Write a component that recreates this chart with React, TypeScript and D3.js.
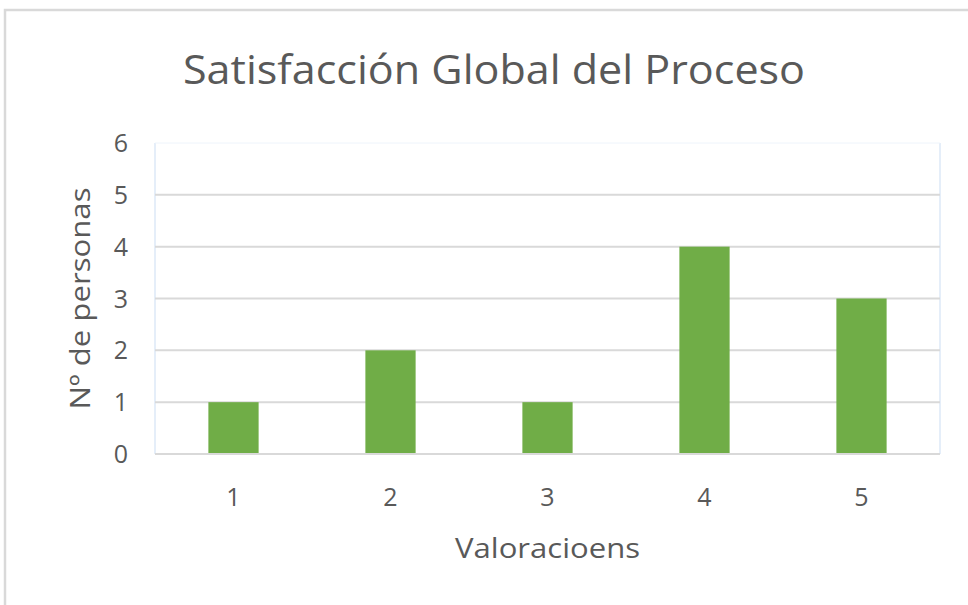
import React from 'react'
import * as d3 from 'd3'

const categories = ['1', '2', '3', '4', '5']
const counts = [1, 2, 1, 4, 3]
const yTicks = [0, 1, 2, 3, 4, 5, 6]

const title = 'Satisfacción Global del Proceso'
const xTitle = 'Valoracioens'
const yTitle = 'Nº de personas'

const width = 968
const height = 605
const plot = { left: 155, right: 940, top: 143, bottom: 454 }
const textColor = '#595959'
const font = "'Open Sans', sans-serif"

const App = () => {
    const x = d3.scaleBand<string>()
        .domain(categories)
        .range([plot.left, plot.right])
        .paddingInner(0.68)
        .paddingOuter(0.34)

    const y = d3.scaleLinear()
        .domain([0, 6])
        .range([plot.bottom, plot.top])

    const band = d3.scaleBand<string>().domain(categories).range([plot.left, plot.right])

    return (
        <svg width={width} height={height} style={{ position: 'absolute', left: 0, top: 0 }}>
            <rect x={0} y={0} width={width} height={height} fill="#fff" />
            {/* chart frame */}
            <rect x={5} y={10} width={width + 10} height={height + 10} fill="none" stroke="#d9d9d9" strokeWidth={2.5} />

            <text x={494} y={84} textAnchor="middle" fontFamily={font} fontSize={41} fill={textColor}
                textLength={622} lengthAdjust="spacingAndGlyphs">{title}</text>

            {/* plot area edges */}
            <line x1={plot.left} x2={plot.left} y1={plot.top} y2={plot.bottom} stroke="#dce9f7" strokeWidth={1.5} />
            <line x1={plot.right} x2={plot.right} y1={plot.top} y2={plot.bottom} stroke="#dce9f7" strokeWidth={1.5} />
            <line x1={plot.left} x2={plot.right} y1={plot.top} y2={plot.top} stroke="#eef4fb" strokeWidth={1} />

            {yTicks.map(t => (
                <g key={`g-${t}`}>
                    {t > 0 && t < 6 && (
                        <line x1={plot.left} x2={plot.right} y1={y(t)} y2={y(t)} stroke="#d9d9d9" strokeWidth={2} />
                    )}
                    <text x={128} y={y(t)} dy="0.36em" textAnchor="end" fontFamily={font} fontSize={25} fill={textColor}>{t}</text>
                </g>
            ))}

            {categories.map((c, i) => (
                <rect key={`bar-${c}`} x={x(c)} y={y(counts[i])} width={x.bandwidth()} height={y(0) - y(counts[i])} fill="#70ad47" />
            ))}

            <line x1={plot.left} x2={plot.right} y1={y(0)} y2={y(0)} stroke="#d9d9d9" strokeWidth={2} />

            {categories.map(c => (
                <text key={`xl-${c}`} x={(band(c) || 0) + band.bandwidth() / 2} y={497} dy="0.36em" textAnchor="middle" fontFamily={font} fontSize={25} fill={textColor}>{c}</text>
            ))}

            <text x={(plot.left + plot.right) / 2} y={548} dy="0.36em" textAnchor="middle" fontFamily={font} fontSize={28} fill={textColor}
                textLength={185} lengthAdjust="spacingAndGlyphs">{xTitle}</text>
            <text transform={`translate(80, ${(plot.top + plot.bottom) / 2}) rotate(-90)`} dy="0.36em" textAnchor="middle" fontFamily={font} fontSize={28} fill={textColor}
                textLength={222} lengthAdjust="spacingAndGlyphs">{yTitle}</text>
        </svg>
    )
}

export default App
